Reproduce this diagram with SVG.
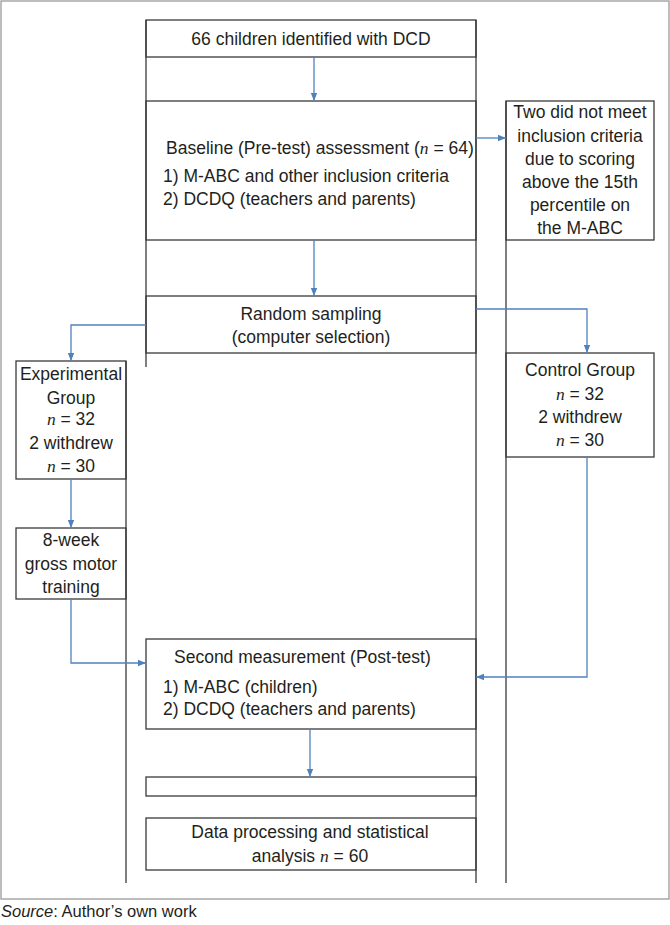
<svg xmlns="http://www.w3.org/2000/svg" width="670" height="925" viewBox="0 0 670 925">
<defs>
<style>
text{font-family:"Liberation Sans",Arial,sans-serif;font-size:17.5px;fill:#231f20}
.c{text-anchor:middle}
.n{font-family:"Liberation Serif","Times New Roman",serif;font-style:italic}
.box{fill:none;stroke:#3a3a3a;stroke-width:1.3}
.ln{stroke:#3a3a3a;stroke-width:1.3;fill:none}
.con{stroke:#4f81bd;stroke-width:1.3;fill:none;marker-end:url(#ah)}
</style>
<marker id="ah" markerUnits="userSpaceOnUse" markerWidth="8" markerHeight="8" refX="8" refY="4" orient="auto">
<path d="M0,0.8 L8,4 L0,7.2 Z" fill="#4f81bd"/>
</marker>
</defs>
<rect width="670" height="925" fill="#fff"/>
<rect x="1" y="1" width="668" height="898" fill="none" stroke="#9a9a9a" stroke-width="1.3"/>
<g id="frame-lines">
<line class="ln" x1="146" y1="20" x2="146" y2="367"/>
<line class="ln" x1="476" y1="20" x2="476" y2="883"/>
<line class="ln" x1="506" y1="101" x2="506" y2="883"/>
<line class="ln" x1="126" y1="361" x2="126" y2="883"/>
</g>
<g id="n-identified">
<rect class="box" x="146" y="20" width="330" height="37"/>
<text class="c" x="311" y="45">66 children identified with DCD</text>
</g>
<g id="n-baseline">
<rect class="box" x="146" y="101" width="330" height="139"/>
<text x="166" y="154">Baseline (Pre-test) assessment (<tspan class="n">n</tspan> = 64)</text>
<text x="163" y="182">1) M-ABC and other inclusion criteria</text>
<text x="163" y="205">2) DCDQ (teachers and parents)</text>
</g>
<g id="n-excluded">
<rect class="box" x="506" y="101" width="148" height="139"/>
<text class="c" x="580" y="118">Two did not meet</text>
<text class="c" x="580" y="142">inclusion criteria</text>
<text class="c" x="580" y="165">due to scoring</text>
<text class="c" x="580" y="188">above the 15th</text>
<text class="c" x="580" y="211">percentile on</text>
<text class="c" x="580" y="234">the M-ABC</text>
</g>
<g id="n-random">
<rect class="box" x="146" y="296" width="330" height="57"/>
<text class="c" x="311" y="320">Random sampling</text>
<text class="c" x="311" y="343">(computer selection)</text>
</g>
<g id="n-experimental">
<rect class="box" x="16" y="361" width="110" height="118"/>
<text class="c" x="71" y="380">Experimental</text>
<text class="c" x="71" y="404">Group</text>
<text class="c" x="71" y="425"><tspan class="n">n</tspan> = 32</text>
<text class="c" x="71" y="449">2 withdrew</text>
<text class="c" x="71" y="472"><tspan class="n">n</tspan> = 30</text>
</g>
<g id="n-control">
<rect class="box" x="506" y="353" width="148" height="104"/>
<text class="c" x="580" y="376">Control Group</text>
<text class="c" x="580" y="400"><tspan class="n">n</tspan> = 32</text>
<text class="c" x="580" y="423">2 withdrew</text>
<text class="c" x="580" y="446"><tspan class="n">n</tspan> = 30</text>
</g>
<g id="n-training">
<rect class="box" x="16" y="528" width="110" height="71"/>
<text class="c" x="71" y="546">8-week</text>
<text class="c" x="71" y="570">gross motor</text>
<text class="c" x="71" y="593">training</text>
</g>
<g id="n-posttest">
<rect class="box" x="146" y="639" width="330" height="90"/>
<text x="174" y="663">Second measurement (Post-test)</text>
<text x="163" y="693">1) M-ABC (children)</text>
<text x="163" y="715">2) DCDQ (teachers and parents)</text>
</g>
<g id="n-empty">
<rect class="box" x="146" y="777" width="330" height="19"/>
</g>
<g id="n-analysis">
<rect class="box" x="146" y="818" width="330" height="52"/>
<text class="c" x="310" y="838">Data processing and statistical</text>
<text class="c" x="310" y="862">analysis <tspan class="n">n</tspan> = 60</text>
</g>
<g id="connectors">
<path class="con" d="M314,57 V101"/>
<path class="con" d="M476,138 H506"/>
<path class="con" d="M314,240 V296"/>
<path class="con" d="M146,325 H71 V361"/>
<path class="con" d="M476,309 H587 V353"/>
<path class="con" d="M71,479 V528"/>
<path class="con" d="M71,599 V663 H146"/>
<path class="con" d="M587,457 V677 H476"/>
<path class="con" d="M310,729 V777"/>
</g>
<g id="caption">
<text x="1" y="917" style="font-size:16.5px"><tspan font-style="italic">Source</tspan>: Author’s own work</text>
</g>
</svg>
